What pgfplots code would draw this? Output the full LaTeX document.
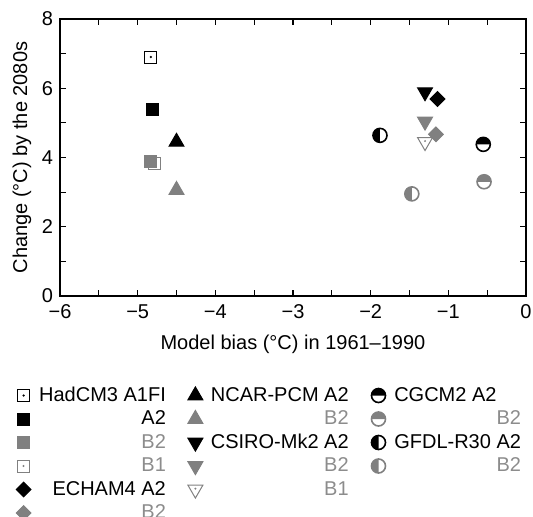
\documentclass[border=0pt]{standalone}
\usepackage{pgfplots}
\pgfplotsset{compat=1.18}
\usepackage{fontspec}
\setmainfont{Liberation Sans}
\definecolor{mgray}{RGB}{128,128,128}
\definecolor{tgray}{RGB}{140,140,140}
\pgfdeclareplotmark{halftop}{%
  \pgfpathmoveto{\pgfqpoint{\pgfplotmarksize}{0pt}}%
  \pgfpatharc{0}{180}{\pgfplotmarksize}%
  \pgfpathclose
  \pgfusepathqfill
  \pgfpathcircle{\pgfpointorigin}{\pgfplotmarksize}%
  \pgfusepathqstroke
}
\pgfdeclareplotmark{halfleft}{%
  \pgfpathmoveto{\pgfqpoint{0pt}{\pgfplotmarksize}}%
  \pgfpatharc{90}{270}{\pgfplotmarksize}%
  \pgfpathclose
  \pgfusepathqfill
  \pgfpathcircle{\pgfpointorigin}{\pgfplotmarksize}%
  \pgfusepathqstroke
}
\pgfdeclareplotmark{sqdot}{%
  \pgfpathrectangle{\pgfqpoint{-\pgfplotmarksize}{-\pgfplotmarksize}}{\pgfqpoint{2\pgfplotmarksize}{2\pgfplotmarksize}}%
  \pgfusepathqstroke
  \pgfpathcircle{\pgfpointorigin}{0.2pt}%
  \pgfusepathqstroke
}
\pgfdeclareplotmark{tridot}{%
  \pgfpathmoveto{\pgfqpoint{0pt}{-\pgfplotmarksize}}%
  \pgfpathlineto{\pgfqpoint{-.866\pgfplotmarksize}{.5\pgfplotmarksize}}%
  \pgfpathlineto{\pgfqpoint{.866\pgfplotmarksize}{.5\pgfplotmarksize}}%
  \pgfpathclose
  \pgfusepathqstroke
  \pgfpathcircle{\pgfqpoint{0pt}{0.1\pgfplotmarksize}}{0.2pt}%
  \pgfusepathqstroke
}
\pgfplotsset{lg/.style={legend image code/.code={\path (-4pt,0pt) (4pt,0pt); \draw[##1, only marks] plot coordinates {(0pt,0pt)};}}}
\begin{document}
\fontsize{10}{12}\selectfont
\begin{tikzpicture}
\path[use as bounding box] (-30pt,-110pt) rectangle (236.5pt,148pt);
\begin{axis}[
  at={(0pt,0pt)}, anchor=south west,
  scale only axis, width=233pt, height=138.5pt,
  xmin=-6, xmax=0, ymin=0, ymax=8,
  xtick={-6,-5,-4,-3,-2,-1,0},
  xticklabels={−6,−5,−4,−3,−2,−1,0},
  ytick={0,2,4,6,8},
  minor x tick num=1, minor y tick num=1,
  tick align=inside,
  major tick length=2.8pt, minor tick length=2.8pt,
  axis line style={line width=0.8pt},
  every tick/.style={line width=0.6pt, black},
  /pgf/number format/assume math mode=true,
  tick label style={font=\fontsize{10}{12}\selectfont},
  xticklabel style={yshift=-0.8pt},
  label style={font=\fontsize{10.7}{12.5}\selectfont},
  every axis x label/.style={at={(axis description cs:0.5,-0.175)}, anchor=center},
  every axis y label/.style={at={(axis description cs:-0.0815,0.5)}, rotate=90, anchor=center},
  xlabel={Model bias (°C) in 1961–1990},
  ylabel={Change (°C) by the 2080s},
  only marks,
  legend style={at={(-0.0966,-0.3249)}, anchor=north west, draw=none, fill=none,
    inner sep=0pt, outer sep=0pt, font=\fontsize{10}{12}\selectfont,
    row sep=2.25pt, column sep=3.5pt,
    /tikz/every even column/.append style={column sep=10.5pt},
    nodes={inner sep=0pt, text height=7.5pt, text depth=2pt}},
  legend cell align=right,
  legend columns=6, transpose legend,
]
% HadCM3 B1 drawn first (behind B2)
\addplot[forget plot, mark=sqdot, mark size=3pt, mgray, line width=0.5pt] coordinates {(-4.78,3.83)};
% HadCM3
\addplot[mark=sqdot, mark size=3pt, black, line width=0.6pt, lg] coordinates {(-4.83,6.90)};
\addlegendentry{HadCM3 A1FI}
\addplot[mark=square*, mark size=3pt, black, line width=0.5pt, lg] coordinates {(-4.81,5.40)};
\addlegendentry{A2}
\addplot[mark=square*, mark size=3pt, mgray, line width=0.5pt, lg] coordinates {(-4.84,3.88)};
\addlegendentry{\textcolor{tgray}{B2}}
\addlegendimage{only marks, mark=sqdot, mark size=3pt, mgray, line width=0.5pt, lg}
\addlegendentry{\textcolor{tgray}{B1}}
% ECHAM4
\addplot[mark=square*, mark size=2.6pt, mark options={rotate=45}, black, line width=0.5pt, lg] coordinates {(-1.14,5.69)};
\addlegendentry{ECHAM4 A2}
\addplot[mark=square*, mark size=2.6pt, mark options={rotate=45}, mgray, line width=0.5pt, lg] coordinates {(-1.16,4.67)};
\addlegendentry{\textcolor{tgray}{B2}}
% NCAR-PCM
\addplot[mark=triangle*, mark size=4.3pt, black, line width=0.5pt, lg] coordinates {(-4.50,4.45)};
\addlegendentry{NCAR-PCM A2}
\addplot[mark=triangle*, mark size=4.3pt, mgray, line width=0.5pt, lg] coordinates {(-4.50,3.06)};
\addlegendentry{\textcolor{tgray}{B2}}
% CSIRO-Mk2
\addplot[mark=triangle*, mark size=4.3pt, mark options={rotate=180}, black, line width=0.5pt, lg] coordinates {(-1.30,5.89)};
\addlegendentry{CSIRO-Mk2 A2}
\addplot[mark=triangle*, mark size=4.3pt, mark options={rotate=180}, mgray, line width=0.5pt, lg] coordinates {(-1.30,5.04)};
\addlegendentry{\textcolor{tgray}{B2}}
\addplot[mark=tridot, mark size=4.3pt, mgray, line width=0.5pt, lg] coordinates {(-1.30,4.45)};
\addlegendentry{\textcolor{tgray}{B1}}
\addlegendimage{empty legend}
\addlegendentry{}
% CGCM2
\addplot[mark=halftop, mark size=3.5pt, black, mark options={fill=black, draw=black}, line width=0.8pt, lg] coordinates {(-0.55,4.38)};
\addlegendentry{\rlap{CGCM2 A2}\phantom{GFDL-R30 A2}}
\addplot[mark=halftop, mark size=3.5pt, mgray, mark options={fill=mgray, draw=mgray}, line width=0.8pt, lg] coordinates {(-0.54,3.30)};
\addlegendentry{\textcolor{tgray}{B2}}
% GFDL-R30
\addplot[mark=halfleft, mark size=3.5pt, black, mark options={fill=black, draw=black}, line width=0.8pt, lg] coordinates {(-1.88,4.64)};
\addlegendentry{GFDL-R30 A2}
\addplot[mark=halfleft, mark size=3.5pt, mgray, mark options={fill=mgray, draw=mgray}, line width=0.8pt, lg] coordinates {(-1.47,2.95)};
\addlegendentry{\textcolor{tgray}{B2}}
\addlegendimage{empty legend}
\addlegendentry{}
\addlegendimage{empty legend}
\addlegendentry{}
\end{axis}
\end{tikzpicture}
\end{document}
